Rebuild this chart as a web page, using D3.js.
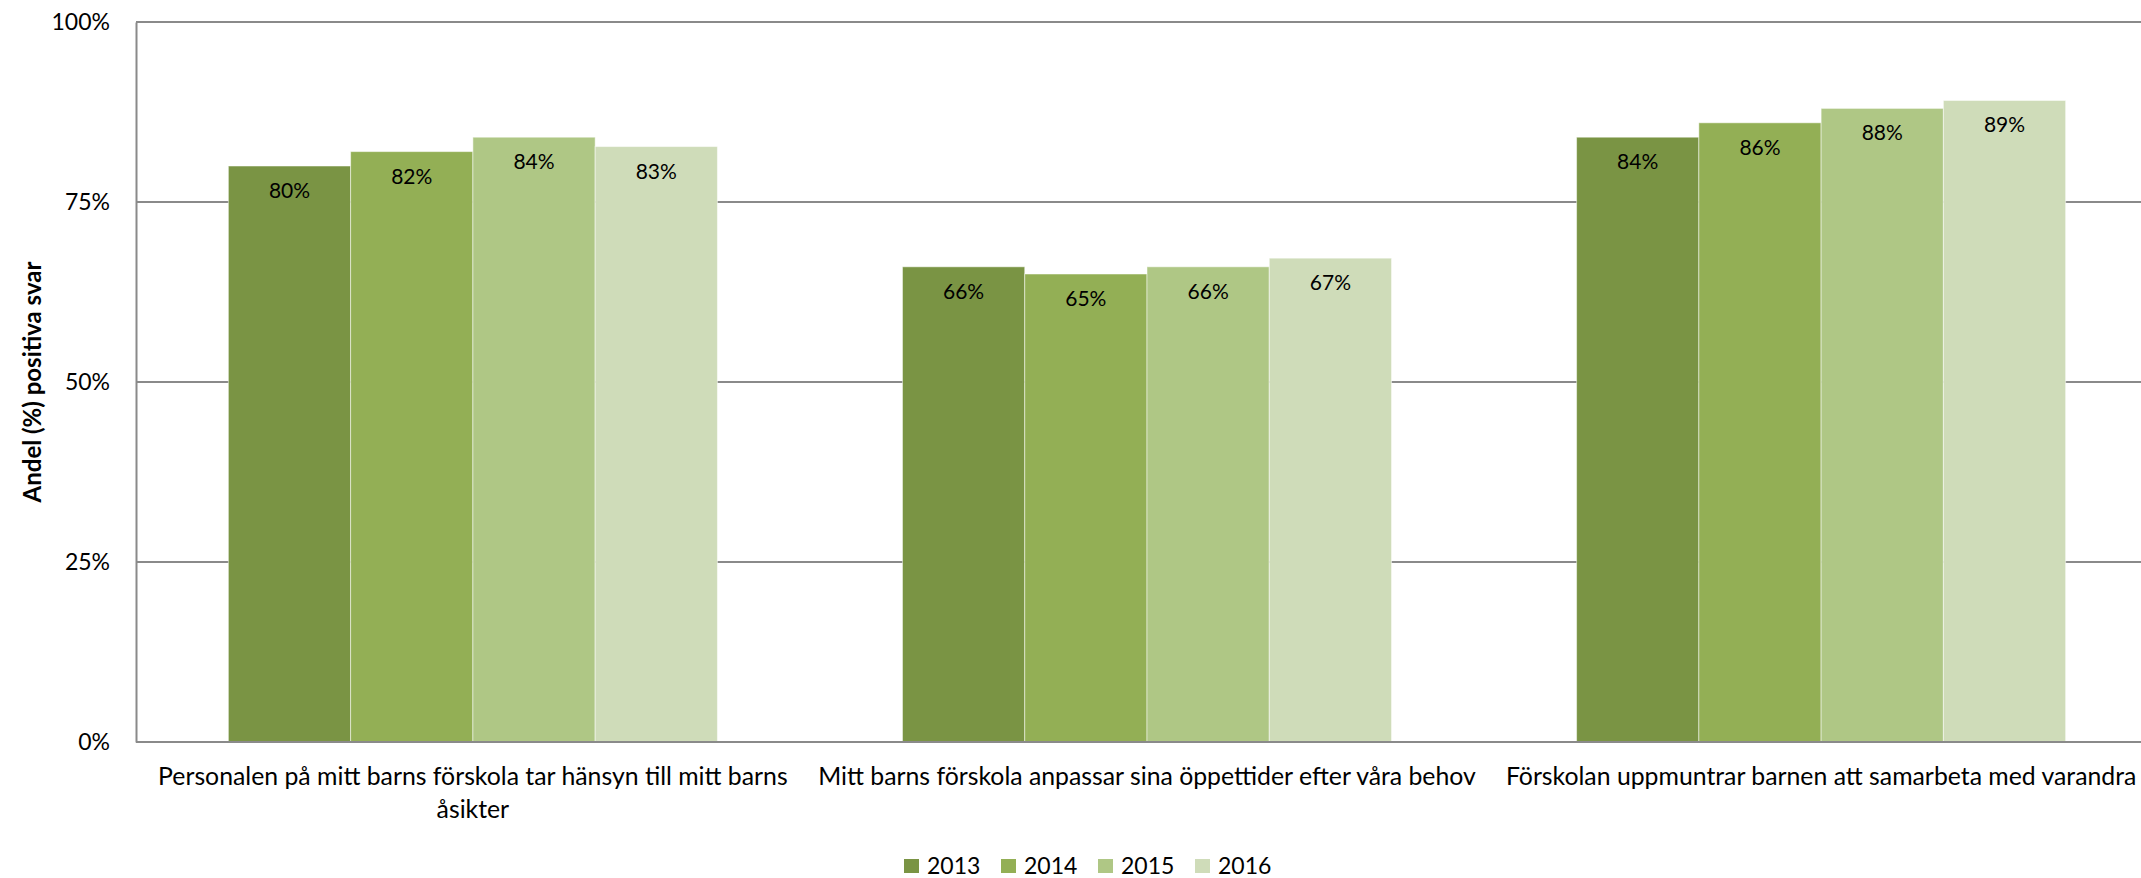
<!DOCTYPE html>
<html>
<head>
<meta charset="utf-8">
<script src="https://cdn.jsdelivr.net/npm/d3@7"></script>
<style>
  html, body { margin: 0; padding: 0; background: #fff; }
  svg { display: block; font-family: "Lato", "Liberation Sans", sans-serif; }
</style>
</head>
<body>
<div id="chart"></div>
<script>
// data
const categories = [
  "Personalen på mitt barns förskola tar hänsyn till mitt barns\nåsikter",
  "Mitt barns förskola anpassar sina öppettider efter våra behov",
  "Förskolan uppmuntrar barnen att samarbeta med varandra"
];
const years = ["2013", "2014", "2015", "2016"];
const values2013 = [80, 66, 84];
const values2014 = [82, 65, 86];
const values2015 = [84, 66, 88];
const values2016 = [82.7, 67.2, 89.1];
const yTicks = [0, 25, 50, 75, 100];
const colors = ["#7a9444", "#93af55", "#afc785", "#cfdcb9"];

const series = [values2013, values2014, values2015, values2016];

// layout
const WIDTH = 2141;
const HEIGHT = 878;
const margin = { top: 22, left: 136, bottom: 136, right: -17 };

const svg = d3.select("#chart")
  .append("svg")
  .attr("width", WIDTH)
  .attr("height", HEIGHT);

const x0 = d3.scaleBand()
  .domain(categories)
  .range([margin.left, WIDTH - margin.right])
  .paddingInner(0.2745)
  .paddingOuter(0.137);

const x1 = d3.scaleBand()
  .domain(years)
  .range([0, x0.bandwidth()]);

const y = d3.scaleLinear()
  .domain([0, 100])
  .range([HEIGHT - margin.bottom, margin.top]);

// gridlines
svg.append("g")
  .selectAll("line")
  .data(yTicks.filter(d => d > 0))
  .enter()
  .append("line")
  .attr("x1", margin.left)
  .attr("x2", WIDTH)
  .attr("y1", d => y(d))
  .attr("y2", d => y(d))
  .attr("stroke", "#8a8a8a")
  .attr("stroke-width", 2);

// y axis
const yAxis = svg.append("g")
  .attr("transform", `translate(${margin.left},0)`)
  .call(d3.axisLeft(y).tickValues(yTicks).tickSize(0).tickPadding(26).tickFormat(d => d + "%"));
yAxis.select(".domain").attr("stroke", "#8a8a8a").attr("stroke-width", 2);
yAxis.selectAll("text")
  .attr("font-size", 23)
  .attr("fill", "#000")
  .attr("font-family", "Lato, 'Liberation Sans', sans-serif");

svg.append("text")
  .attr("transform", `translate(31,${y(50)}) rotate(-90)`)
  .attr("text-anchor", "middle")
  .attr("dominant-baseline", "central")
  .attr("font-size", 24)
  .attr("font-weight", "bold")
  .text("Andel (%) positiva svar");

// bars
const groups = svg.append("g")
  .selectAll("g")
  .data(series)
  .enter()
  .append("g")
  .attr("fill", (d, i) => colors[i]);

groups.selectAll("rect")
  .data((d, i) => d.map((v, j) => ({ v, year: years[i], cat: categories[j] })))
  .enter()
  .append("rect")
  .attr("x", d => x0(d.cat) + x1(d.year))
  .attr("y", d => y(d.v))
  .attr("width", x1.bandwidth())
  .attr("height", d => y(0) - y(d.v))
  .attr("stroke", "rgba(255,255,255,0.5)")
  .attr("stroke-width", 1);

// data labels
groups.selectAll("text")
  .data((d, i) => d.map((v, j) => ({ v, year: years[i], cat: categories[j] })))
  .enter()
  .append("text")
  .attr("x", d => x0(d.cat) + x1(d.year) + x1.bandwidth() / 2)
  .attr("y", d => y(d.v) + 32)
  .attr("text-anchor", "middle")
  .attr("font-size", 21)
  .attr("fill", "#000")
  .text(d => Math.round(d.v) + "%");

// bottom axis line
svg.append("line")
  .attr("x1", margin.left)
  .attr("x2", WIDTH)
  .attr("y1", y(0))
  .attr("y2", y(0))
  .attr("stroke", "#8a8a8a")
  .attr("stroke-width", 2);

// category labels
const catLabels = svg.append("g")
  .selectAll("text")
  .data(categories)
  .enter()
  .append("text")
  .attr("x", d => x0(d) + x0.bandwidth() / 2)
  .attr("y", y(0) + 43)
  .attr("text-anchor", "middle")
  .attr("font-size", 24.8)
  .attr("fill", "#000");

catLabels.selectAll("tspan")
  .data(d => d.split("\n"))
  .enter()
  .append("tspan")
  .attr("x", function() { return d3.select(this.parentNode).attr("x"); })
  .attr("dy", (d, i) => i === 0 ? 0 : 33)
  .text(d => d);

// legend
const legend = svg.append("g")
  .attr("transform", "translate(904,859)");

const item = legend.selectAll("g")
  .data(years)
  .enter()
  .append("g")
  .attr("transform", (d, i) => `translate(${i * 97},0)`);

item.append("rect")
  .attr("width", 15)
  .attr("height", 14)
  .attr("fill", (d, i) => colors[i]);

item.append("text")
  .attr("x", 23)
  .attr("y", 15)
  .attr("font-size", 23)
  .attr("fill", "#000")
  .text(d => d);
</script>
</body>
</html>
